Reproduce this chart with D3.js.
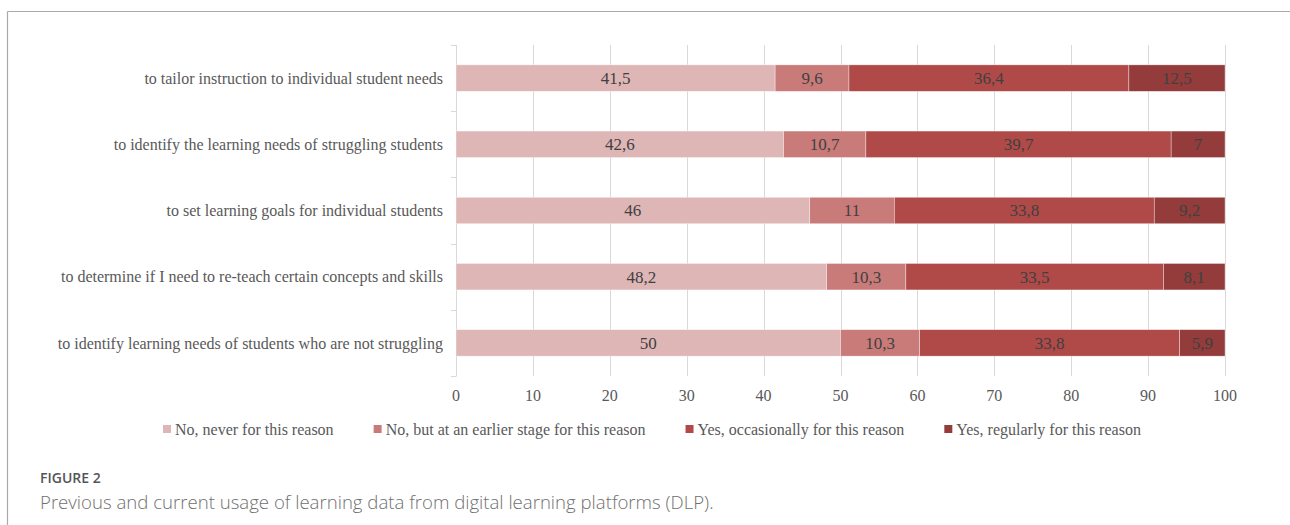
<!DOCTYPE html>
<html>
<head>
<meta charset="utf-8">
<script src="https://cdn.jsdelivr.net/npm/d3@7"></script>
<style>
  body { margin: 0; background: #fff; }
  svg { display: block; }
</style>
</head>
<body>
<svg id="chart" width="1290" height="525"></svg>
<script>
// data
var categories = [
  "to tailor instruction to individual student needs",
  "to identify the learning needs of struggling students",
  "to set learning goals for individual students",
  "to determine if I need to re-teach certain concepts and skills",
  "to identify learning needs of students who are not struggling"
];
var seriesNames = [
  "No, never for this reason",
  "No, but at an earlier stage for this reason",
  "Yes, occasionally for this reason",
  "Yes, regularly for this reason"
];
var neverVals = [41.5, 42.6, 46, 48.2, 50];
var earlierVals = [9.6, 10.7, 11, 10.3, 10.3];
var occasionallyVals = [36.4, 39.7, 33.8, 33.5, 33.8];
var regularlyVals = [12.5, 7, 9.2, 8.1, 5.9];
var xTicks = [0, 10, 20, 30, 40, 50, 60, 70, 80, 90, 100];

var colori = ["#dfb6b6", "#c97b7a", "#b04a48", "#933c3b"];

var svg = d3.select("#chart");

// frame (top and left border)
svg.append("line").attr("x1", 7.5).attr("x2", 1290).attr("y1", 11.5).attr("y2", 11.5)
  .attr("stroke", "#aaaaaa").attr("stroke-width", 1.2);
svg.append("line").attr("x1", 7.5).attr("x2", 7.5).attr("y1", 11.5).attr("y2", 525)
  .attr("stroke", "#aaaaaa").attr("stroke-width", 1.2);

var plotLeft = 456, plotRight = 1225, plotTop = 45, plotBottom = 376;

var x = d3.scaleLinear().domain([0, 100]).range([plotLeft, plotRight]);
var y = d3.scaleBand().domain(categories).range([plotTop, plotBottom])
  .paddingInner(0.6).paddingOuter(0.3);

// build stacked table
var table = categories.map(function (c, i) {
  return { cat: c, s0: neverVals[i], s1: earlierVals[i], s2: occasionallyVals[i], s3: regularlyVals[i] };
});
var stack = d3.stack().keys(["s0", "s1", "s2", "s3"]);
var layers = stack(table);

// gridlines
svg.append("g").selectAll("line")
  .data(xTicks.slice(1))
  .enter().append("line")
  .attr("x1", function (d) { return Math.round(x(d)) + 0.5; })
  .attr("x2", function (d) { return Math.round(x(d)) + 0.5; })
  .attr("y1", plotTop).attr("y2", plotBottom)
  .attr("stroke", "#d9d9d9").attr("stroke-width", 1);

// left axis line and ticks at band boundaries
svg.append("line").attr("x1", plotLeft + 0.5).attr("x2", plotLeft + 0.5)
  .attr("y1", plotTop).attr("y2", plotBottom)
  .attr("stroke", "#d9d9d9").attr("stroke-width", 1);
var step = y.step();
svg.append("g").selectAll("line")
  .data(d3.range(categories.length + 1))
  .enter().append("line")
  .attr("x1", plotLeft - 5).attr("x2", plotLeft + 0.5)
  .attr("y1", function (d) { return Math.round(plotTop + d * step) + 0.5; })
  .attr("y2", function (d) { return Math.round(plotTop + d * step) + 0.5; })
  .attr("stroke", "#d9d9d9").attr("stroke-width", 1);

// bars
var groups = svg.append("g").selectAll("g")
  .data(layers)
  .enter().append("g")
  .attr("fill", function (d, i) { return colori[i]; });

groups.selectAll("rect")
  .data(function (d) { return d; })
  .enter().append("rect")
  .attr("x", function (d) { return x(d[0]); })
  .attr("width", function (d) { return Math.min(x(d[1]), plotRight) - x(d[0]); })
  .attr("y", function (d) { return y(d.data.cat); })
  .attr("height", y.bandwidth())
  .attr("stroke", "#ffffff").attr("stroke-width", 0.6).attr("stroke-opacity", 0.6);

// bar labels
groups.selectAll("text")
  .data(function (d) { return d; })
  .enter().append("text")
  .attr("x", function (d) { return (x(d[0]) + Math.min(x(d[1]), plotRight)) / 2; })
  .attr("y", function (d) { return y(d.data.cat) + y.bandwidth() / 2; })
  .attr("dy", "0.35em")
  .attr("text-anchor", "middle")
  .attr("font-family", "'Liberation Serif', 'Times New Roman', serif")
  .attr("font-size", "17px")
  .attr("fill", "#404040")
  .text(function (d) { return String(+(d[1] - d[0]).toFixed(1)).replace(".", ","); });

// category labels
svg.append("g").selectAll("text")
  .data(categories)
  .enter().append("text")
  .attr("x", 443)
  .attr("y", function (d) { return y(d) + y.bandwidth() / 2; })
  .attr("dy", "0.35em")
  .attr("text-anchor", "end")
  .attr("font-family", "'Liberation Serif', 'Times New Roman', serif")
  .attr("font-size", "16px")
  .attr("fill", "#595959")
  .text(function (d) { return d; });

// x tick labels
svg.append("g").selectAll("text")
  .data(xTicks)
  .enter().append("text")
  .attr("x", function (d) { return x(d); })
  .attr("y", 395)
  .attr("dy", "0.35em")
  .attr("text-anchor", "middle")
  .attr("font-family", "'Liberation Serif', 'Times New Roman', serif")
  .attr("font-size", "16px")
  .attr("fill", "#595959")
  .text(function (d) { return d; });

// legend
var legend = svg.append("g");
var items = legend.selectAll("g")
  .data(seriesNames)
  .enter().append("g");
items.append("rect")
  .attr("width", 8).attr("height", 8)
  .attr("y", 425)
  .attr("fill", function (d, i) { return colori[i]; });
items.append("text")
  .attr("x", 12)
  .attr("y", 429)
  .attr("dy", "0.35em")
  .attr("font-family", "'Liberation Serif', 'Times New Roman', serif")
  .attr("font-size", "16px")
  .attr("fill", "#595959")
  .text(function (d) { return d; });

var widths = [];
items.each(function () { widths.push(this.getBBox().width); });
var gap = 40;
var cx = 163;
var offsets = [];
widths.forEach(function (w) { offsets.push(cx); cx += w + gap; });
items.attr("transform", function (d, i) { return "translate(" + offsets[i] + ",0)"; });

// caption
svg.append("text")
  .attr("x", 40).attr("y", 483)
  .attr("font-family", "'Open Sans', 'Noto Sans', sans-serif")
  .attr("font-size", "14px")
  .attr("font-weight", 600)
  .attr("fill", "#555555")
  .text("FIGURE 2");
svg.append("text")
  .attr("x", 40).attr("y", 509)
  .attr("font-family", "'Open Sans', 'Noto Sans', sans-serif")
  .attr("font-size", "18.6px")
  .attr("font-weight", 300)
  .attr("fill", "#707070")
  .text("Previous and current usage of learning data from digital learning platforms (DLP).");
</script>
</body>
</html>
